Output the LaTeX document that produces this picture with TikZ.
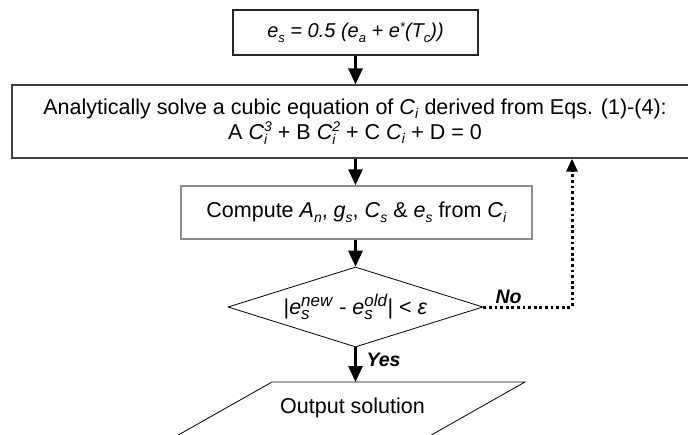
\documentclass[tikz,border=0pt]{standalone}
\usepackage{fontspec}
\setmainfont{Liberation Sans}
\usetikzlibrary{arrows.meta,shapes.geometric}
\newcommand{\mysb}[3][14]{\textit{#2}\raisebox{-4.5pt}{\fontsize{#1}{#1}\selectfont\textit{#3}}}
\newcommand{\mysbsp}[4][15]{\textit{#2}\makebox[0pt][l]{\raisebox{-5pt}{\fontsize{#1}{#1}\selectfont\textit{#3}}}\raisebox{7.5pt}{\fontsize{#1}{#1}\selectfont\textit{#4}}}
\begin{document}
\begin{tikzpicture}[x=1pt,y=-1pt,
  font=\fontsize{21.5}{25}\selectfont,
  box/.style={draw, rectangle, inner sep=0pt, align=center},
  arr/.style={line width=3pt, -{Triangle[length=16pt,width=14pt]}},
  dotarr/.style={line width=3pt, dash pattern=on 2.8pt off 2.8pt, -{Triangle[length=13pt,width=11pt]}},
  lbl/.style={font=\fontsize{19.5}{22}\selectfont\bfseries\itshape, inner sep=0pt}]
\useasboundingbox (0,0) rectangle (688,434);
\node[box, draw=black!85, line width=1.3pt, minimum width=245pt, minimum height=45pt,
      font=\fontsize{20}{24}\selectfont\itshape] (b1) at (355.5,32.5)
  {\mysb[13]{e}{s} = 0.5 (\mysb[13]{e}{a} + \textit{e}\raisebox{6pt}{\fontsize{13}{13}\selectfont *}(\mysb[13]{T}{c}))};
\node[box, draw=black!75, line width=1.3pt, minimum width=686pt, minimum height=73pt] (b2) at (355,121.5)
  {Analytically solve a cubic equation of \mysb{C}{i} derived from Eqs. (1)-(4):\\
   A \mysbsp[14]{C}{i}{3} + B \mysbsp[14]{C}{i}{2} + C \mysb{C}{i} + D = 0};
\node[box, draw=black!45, line width=1.5pt, minimum width=351pt, minimum height=53pt] (b3) at (356.5,212.5)
  {Compute \mysb{A}{n}, \mysb{g}{s}, \mysb{C}{s} \& \mysb{e}{s} from \mysb{C}{i}};
\node[draw, diamond, aspect=3.19, minimum width=255pt, minimum height=80pt, inner sep=0pt, line width=0.8pt] (d) at (355.5,307)
  {|\mysbsp[17]{e}{s}{new} - \mysbsp[17]{e}{s}{old}| < \textit{ε}};
\coordinate (outtop) at (355.5,382);
\coordinate (nc) at (572,307);
\draw[line width=0.8pt] (150,451) -- (272,382) -- (525,382) -- (403,451);
\node (out) at (352.5,408) {Output solution};
\draw[arr] (b1.south -| d.north) -- (b2.north -| d.north);
\draw[arr] (b2.south -| d.north) -- (b3.north -| d.north);
\draw[arr] (b3.south -| d.north) -- (d.north);
\draw[arr] (d.south) -- (outtop);
\node[lbl] (yes) at (383.5,360) {Yes};
\draw[dotarr] (d.east) -- (nc) -- (nc |- b2.south);
\node[lbl] (no) at (508.5,297) {No};
\end{tikzpicture}
\end{document}
